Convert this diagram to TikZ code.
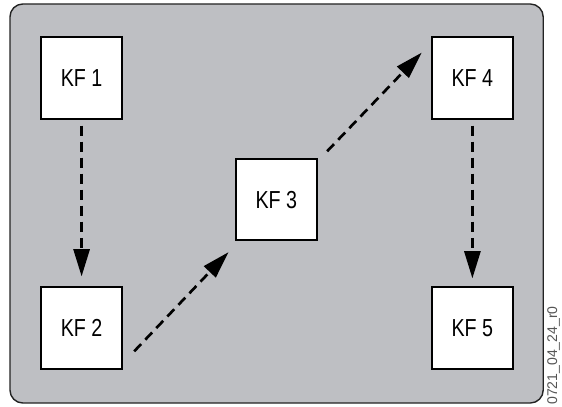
\documentclass[tikz,border=0pt]{standalone}
\usepackage{fontspec}
\usepackage{xcolor}
\usepackage{tikz}
\usetikzlibrary{arrows.meta}
\newfontfamily\kffont[FakeStretch=0.8]{Liberation Sans}
\newfontfamily\tagfont{Liberation Sans}
\definecolor{kfgray}{RGB}{190,191,195}
\definecolor{kfline}{RGB}{35,35,35}
\definecolor{tagcol}{RGB}{85,85,85}

\begin{document}
\begin{tikzpicture}[
  kf/.style={draw=black, fill=white, rectangle, minimum size=2.03cm, line width=1.4pt,
             font=\kffont\fontsize{17.5}{20}\selectfont, inner sep=0pt},
  >={Triangle[length=0.68cm,width=0.4cm]},
  arrline/.style={->, line width=1.9pt, dash pattern=on 7.1pt off 4.3pt},
]
\useasboundingbox (0,0) rectangle (14.05,10.15);

% ============ frame ============
\draw[kfline, fill=kfgray, line width=1pt, rounded corners=0.32cm] (0.25,0.075) rectangle (13.58,10.05);

% ============ key frames ============
\node[kf] (kf1) at (2.04,8.2) {KF 1};
\node[kf] (kf2) at (2.04,1.95) {KF 2};
\node[kf] (kf3) at (6.91,5.16) {KF 3};
\node[kf] (kf4) at (11.81,8.2) {KF 4};
\node[kf] (kf5) at (11.81,1.95) {KF 5};

% ============ figure tag (right edge) ============
\node[rotate=90, anchor=base east, inner sep=0pt, text=tagcol,
      font=\tagfont\fontsize{10}{12}\selectfont] (tag) at (13.93,2.5) {0721\_04\_24\_r0};

% ===================== ARROWS =====================

% KF1 -> KF2 (down)
\draw[arrline, shorten <=0.15cm, shorten >=0.25cm] (kf1.south) -- (kf2.north);

% KF2 -> KF3 (up right)
\draw[arrline, shorten <=0.4cm, shorten >=0.38cm] (kf2.-40) -- (kf3.-132);

% KF3 -> KF4 (up right)
\draw[arrline, shorten <=0.33cm, shorten >=0.33cm] (kf3.43) -- (kf4.140);

% KF4 -> KF5 (down)
\draw[arrline, shorten <=0.15cm, shorten >=0.2cm] (kf4.south) -- (kf5.north);

\end{tikzpicture}
\end{document}
